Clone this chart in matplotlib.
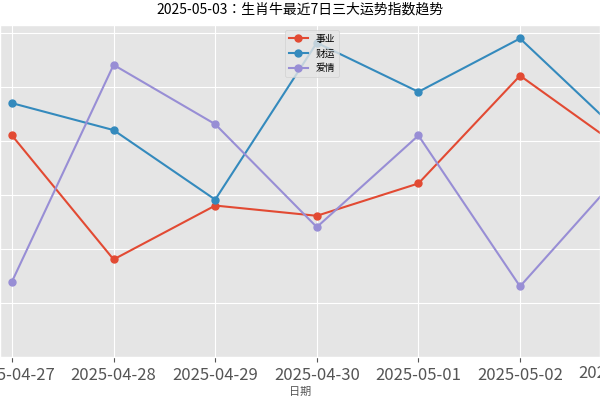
import matplotlib.pyplot as plt

plt.style.use("ggplot")
plt.rcParams["font.family"] = "sans-serif"
plt.rcParams["font.sans-serif"] = ["Noto Sans CJK SC", "Noto Sans CJK JP", "DejaVu Sans"]
plt.rcParams["axes.unicode_minus"] = False

dates = ["2025-04-27", "2025-04-28", "2025-04-29", "2025-04-30",
         "2025-05-01", "2025-05-02", "2025-05-03"]
career = [71.0, 48.0, 58.0, 56.1, 62.1, 82.1, 68.6]
wealth = [77.0, 72.0, 59.1, 88.2, 79.1, 89.0, 71.2]
love = [43.9, 84.1, 73.1, 54.0, 71.0, 43.0, 64.1]

fig = plt.figure(figsize=(6, 4), dpi=100)
ax = fig.add_axes([0, 43 / 400, 1, 332 / 400])
x = list(range(len(dates)))
ax.plot(x, career, marker="o", markersize=5, label="事业")
ax.plot(x, wealth, marker="o", markersize=5, label="财运")
ax.plot(x, love, marker="o", markersize=5, label="爱情")
ax.set_xticks(x)
ax.set_xticklabels(dates, fontsize=12, color="#555555")
ax.set_xlim(-0.118, 5.787)
ax.set_ylim(29.9, 91.5)
ax.set_yticks([40, 50, 60, 70, 80, 90])
ax.set_yticklabels([])
ax.tick_params(axis="y", length=0)
# last date label sits beyond the right edge, as in the cropped original
ax.text(x[-1], -0.025, dates[-1], transform=ax.get_xaxis_transform(),
        ha="center", va="top", fontsize=12, color="#555555", clip_on=False)
ax.set_xlabel("日期", fontsize=8, labelpad=2)
ax.legend(loc="upper center", fontsize=7, bbox_to_anchor=(0.52, 1.0))
fig.text(0.5, 0.965, "2025-05-03：生肖牛最近7日三大运势指数趋势", ha="center", fontsize=10)
fig.savefig("out.png")
